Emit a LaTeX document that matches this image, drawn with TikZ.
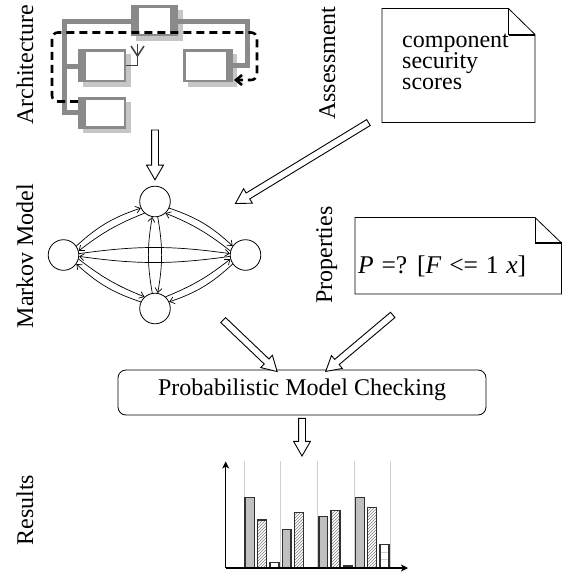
\documentclass[tikz,border=0pt]{standalone}
\usepackage{fontspec}
\setmainfont{Liberation Serif}
\usetikzlibrary{arrows.meta,calc,shapes.arrows,patterns}

\definecolor{wiregray}{HTML}{8A8A8A}
\definecolor{shadowgray}{HTML}{C6C6C6}
\definecolor{barfill}{HTML}{C0C0C0}
\definecolor{gridgray}{HTML}{D0D0D0}
\definecolor{barline}{HTML}{303030}
\definecolor{ifacegray}{HTML}{404040}

% hollow block arrow stretched between two named points
\newcommand{\fatarrowfromto}[2]{%
  \path let \p1=($(#2)-(#1)$), \n1={veclen(\x1,\y1)} in
    (#1) -- (#2) node[midway, sloped, allow upside down, fatarrow, minimum height=\n1] {};}

\begin{document}
\begin{tikzpicture}[x=1pt, y=-1pt,
  lbl/.style={rotate=90, anchor=base, inner sep=0pt, font=\fontsize{24}{24}\selectfont},
  txt/.style={inner sep=0pt, font=\fontsize{24}{21}\selectfont},
  wire/.style={line width=5pt, draw=wiregray, line join=miter},
  iface/.style={line width=1.5pt, draw=ifacegray},
  dashwire/.style={line width=2.6pt, dash pattern=on 8pt off 5pt, rounded corners=6pt},
  note/.style={draw=black, line width=0.8pt, fill=white, line join=miter},
  state/.style={circle, draw=black, line width=0.8pt, minimum size=30.6pt, inner sep=0pt},
  trans/.style={line width=0.7pt, -{Straight Barb[length=4.5pt,width=7pt]}},
  fatarrow/.style={single arrow, draw=black, fill=white, line width=0.9pt,
    single arrow head extend=5pt, single arrow tip angle=60,
    single arrow head indent=0pt, inner xsep=0pt, inner ysep=3pt,
    outer sep=0pt, anchor=center, font=\fontsize{1}{1}\selectfont},
  bar/.style={draw=barline, line width=1.1pt},
  grid/.style={draw=gridgray, line width=0.8pt},
  axis/.style={line width=1.2pt, -{Stealth[length=7pt,width=7pt,inset=2pt]}}
]
\useasboundingbox (0,0) rectangle (567,576);

% ---------------- row labels ----------------
\node[lbl] (lArch) at (33,65) {Architecture};
\node[lbl] (lAss) at (335,63) {Assessment};
\node[lbl] (lMark) at (33,256) {Markov Model};
\node[lbl] (lProp) at (332,255) {Properties};
\node[lbl] (lRes) at (33,510) {Results};

% ---------------- component architecture ----------------
% shadows
\fill[shadowgray] (136,10) rectangle (183,41);
\fill[shadowgray] (83,54) rectangle (131,87);
\fill[shadowgray] (83,102) rectangle (131,133);
\fill[shadowgray] (188,54) rectangle (237,87);
% wiring
\draw[wire] (131,21) -- (64,21) -- (64,112.5) -- (78,112.5);
\draw[wire] (64,66) -- (78,66);
\draw[wire] (178,21) -- (247,21) -- (247,65.5) -- (233,65.5);
% component frames
\fill[wiregray] (131,5) rectangle (178,36);
\fill[white] (139,7.5) rectangle (170,33.5);
\fill[wiregray] (78,49) rectangle (126,82);
\fill[white] (86,51.5) rectangle (123.5,79.5);
\fill[wiregray] (78,97) rectangle (126,128.5);
\fill[white] (86,99.5) rectangle (123.5,126);
\fill[wiregray] (183,49) rectangle (233,82);
\fill[white] (185.5,51.5) rectangle (226,79.5);
% required interface
\draw[iface] (126,65.5) -- (137.5,65.5) -- (137.5,43.5);
\draw[iface] (131,46) -- (137.5,56) -- (144,46);
% dependency path
\draw[dashwire, -{Straight Barb[length=6pt,width=10pt]}]
  (78,101.5) -- (52,101.5) -- (52,32.5) -- (257,32.5) -- (257,80) -- (234,80);

% ---------------- assessment note ----------------
\draw[note] (382,8.5) -- (508.5,8.5) -- (535,34.5) -- (535,122.5) -- (382,122.5) -- cycle;
\draw[line width=0.8pt] (508.5,8.5) -- (508.5,34.5);
\draw[line width=2pt] (508.5,34.5) -- (535.4,34.5);
\node[txt, anchor=base west] (sc1) at (402,47) {component};
\node[txt, anchor=base west] (sc2) at (402,68.5) {security};
\node[txt, anchor=base west] (sc3) at (402,89.5) {scores};

% ---------------- Markov model ----------------
\node[state] (T) at (155,201.5) {};
\node[state] (L) at (63.5,255) {};
\node[state] (R) at (245.5,255) {};
\node[state] (B) at (155,308.5) {};

\draw[trans] (L.35) to[bend left=12] (T.205);
\draw[trans] (T.228) to[bend right=8] (L.15);
\draw[trans] (T.335) to[bend left=12] (R.145);
\draw[trans] (R.165) to[bend right=8] (T.312);
\draw[trans] (R.215) to[bend left=12] (B.25);
\draw[trans] (B.48) to[bend right=8] (R.195);
\draw[trans] (B.155) to[bend left=12] (L.-35);
\draw[trans] (L.-15) to[bend right=8] (B.132);
\draw[trans] (L.5) to[bend left=8] (R.175);
\draw[trans] (R.185) to[bend left=8] (L.-5);
\draw[trans] (B.100) to[bend left=10] (T.260);
\draw[trans] (T.280) to[bend left=10] (B.80);

% ---------------- properties note ----------------
\draw[note] (355,217.5) -- (535,217.5) -- (561.5,243) -- (561.5,294) -- (355,294) -- cycle;
\draw[line width=0.8pt] (535,217.5) -- (535,243);
\draw[line width=2pt] (535,243) -- (561.9,243);
\node[inner sep=0pt, anchor=base west, font=\fontsize{25.5}{25.5}\selectfont] (pctl) at (358,273)
  {\spaceskip=7.8pt\textit{P} =? [\textit{F} <= 1 \textit{x}]};

% ---------------- model checker ----------------
\node[draw=black, line width=0.8pt, rounded corners=8pt, minimum width=368pt,
  minimum height=45pt, inner sep=0pt] (pmc) at (302,392.5) {};
\node[txt, anchor=base] (pmct) at (302,395) {Probabilistic Model Checking};

% ---------------- result chart ----------------
\foreach \gx in {244,280.7,317.3,354,390.7}
  \draw[grid] (\gx,461) -- (\gx,568);
\draw[bar, fill=barfill] (245,568) rectangle (254.3,497.7);
\draw[bar, fill=barfill] (282.3,568) rectangle (291,529.3);
\draw[bar, fill=barfill] (319,568) rectangle (327.7,516.7);
\draw[bar, fill=barfill] (355.7,568) rectangle (364.3,497.7);
\foreach \xa/\xb/\top in {257.7/266.7/520, 294.3/303.3/512.7, 331/340/510.7, 367.7/376.7/507.3}
  \draw[bar, preaction={fill=white}, pattern=north east lines, pattern color=gray]
    (\xa,568) rectangle (\xb,\top);
\draw[bar, fill=white] (270,568) rectangle (279,562.7);
\draw[bar, fill=white] (343.3,568) rectangle (352.7,566);
\draw[bar, fill=white] (380,568) rectangle (389,544.3);
\draw[gridgray, line width=0.8pt] (380.6,552.7) -- (388.4,552.7) (380.6,559.3) -- (388.4,559.3);
\coordinate (origin) at (225.7,568);
\coordinate (ytop) at (225.7,461.5);
\coordinate (xend) at (408,568);
\draw[axis] (origin) -- (ytop);
\draw[axis] (origin) -- (xend);

% ---------------- flow arrows ----------------
\coordinate (archout) at (155,127);
\coordinate (Tin) at ($(T.north)+(0,-9)$);
\coordinate (assout) at (371,121);
\coordinate (assin) at (238,202);
\coordinate (markout) at (221,318);
\coordinate (pmcinL) at (275,369.5);
\coordinate (propout) at (395,313);
\coordinate (pmcinR) at (328,369.5);
\coordinate (pmcout) at (pmc.south);
\coordinate (resin) at (302,453);
\fatarrowfromto{archout}{Tin}
\fatarrowfromto{assout}{assin}
\fatarrowfromto{markout}{pmcinL}
\fatarrowfromto{propout}{pmcinR}
\fatarrowfromto{pmcout}{resin}
\end{tikzpicture}
\end{document}
